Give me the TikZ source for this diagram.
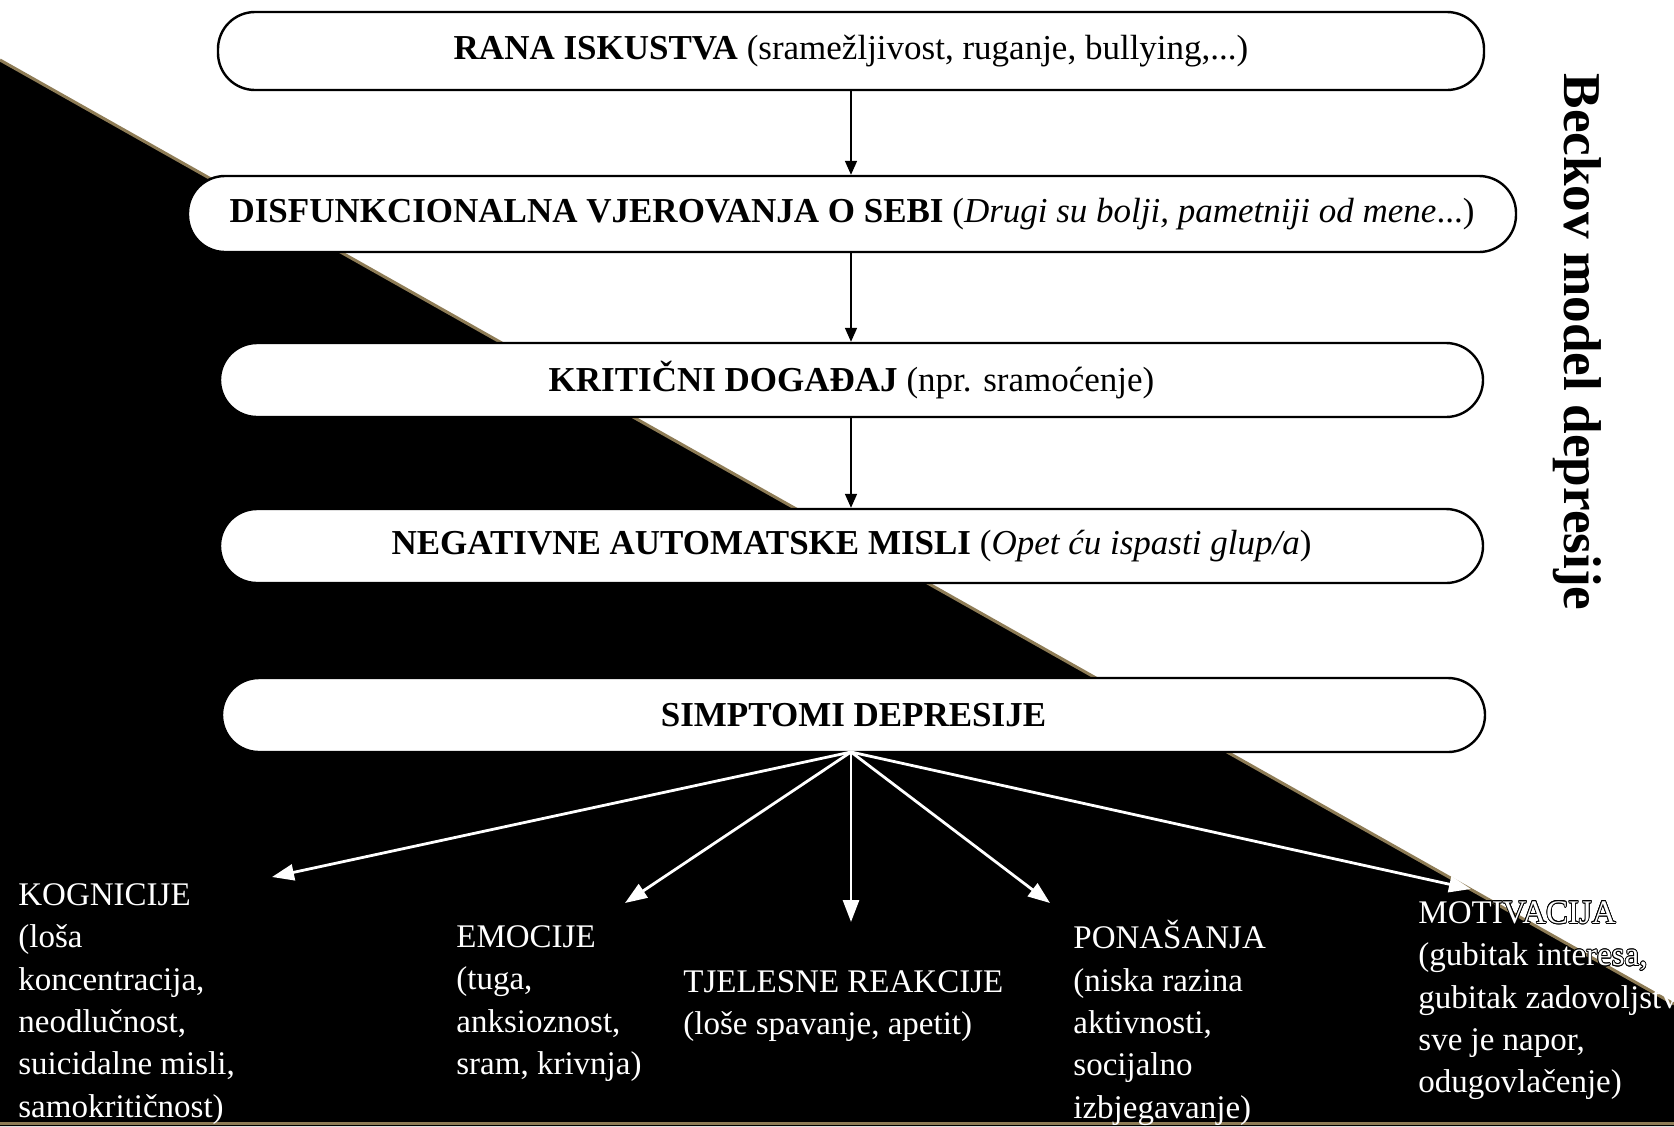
\documentclass[tikz,border=0pt]{standalone}
\usepackage{fontspec}
\setmainfont{Liberation Serif}
\usepackage[copies]{contour}
\contourlength{0.4pt}
\usetikzlibrary{arrows.meta}
\definecolor{gold}{RGB}{142,124,86}
\newcommand{\obrub}[1]{\contour{black}{#1}}

\begin{document}
\begin{tikzpicture}[x=0.5pt,y=-0.5pt,
	stage/.style={draw,fill=white,line width=1.2pt,rounded corners=18.5pt,minimum height=37pt,minimum width=631.5pt,inner sep=0pt,font=\fontsize{17.5}{21}\selectfont},
	flow/.style={-{Triangle[length=7pt,width=6pt]},line width=0.8pt},
	branch/.style={white,-{Triangle[length=11pt,width=8pt]},line width=1.4pt},
	effect/.style={white,anchor=north west,align=left,inner sep=0pt,font=\fontsize{16.5}{21.2}\selectfont}]
		\useasboundingbox (0,0) rectangle (1674,1126);
		\fill[white] (0,0) rectangle (1674,1126);
		\fill[black] (0,60) -- (1674,1004) -- (1674,1126) -- (0,1126) -- cycle;
		\draw[gold,line width=1.5pt] (0,60) -- (1674,1004);
		\draw[gold,line width=1.5pt] (0,1123) -- (1674,1123);
		\node[stage,minimum height=39pt,minimum width=633pt] (rana) at (851,51) {\textbf{RANA ISKUSTVA} (sramežljivost, ruganje, bullying,...)};
		\node[stage,minimum height=38pt,minimum width=664pt] (vjerovanja) at (852,214) {\textbf{DISFUNKCIONALNA VJEROVANJA O SEBI} (\textit{Drugi su bolji, pametniji od mene}...)};
		\node[stage] (dogadaj) at (851.5,380) {\textbf{KRITIČNI DOGAĐAJ} (npr. sramoćenje)};
		\node[stage] (misli) at (851.5,546) {\textbf{NEGATIVNE AUTOMATSKE MISLI} (\textit{Opet ću ispasti glup/a})};
		\node[stage] (simptomi) at (853.5,715) {\textbf{SIMPTOMI DEPRESIJE}};
		\node[rotate=-90,font=\bfseries\fontsize{26.6}{32}\selectfont] (naslov) at (1577,342) {Beckov model depresije};
		\draw[flow] (rana.south -| 851,0) -- (vjerovanja.north -| 851,0);
		\draw[flow] (vjerovanja.south -| 851,0) -- (dogadaj.north -| 851,0);
		\draw[flow] (dogadaj.south -| 851,0) -- (misli.north -| 851,0);
		\node[effect] (kognicije) at (18,883) {KOGNICIJE\\(loša\\koncentracija,\\neodlučnost,\\suicidalne misli,\\samokritičnost)};
		\node[effect] (emocije) at (456,925) {EMOCIJE\\(tuga,\\anksioznost,\\sram, krivnja)};
		\node[effect] (tjelesne) at (683,970) {TJELESNE REAKCIJE\\(loše spavanje, apetit)};
		\node[effect] (ponasanja) at (1073,920) {PONAŠANJA\\(niska razina\\aktivnosti,\\socijalno\\izbjegavanje)};
		\node[effect] (motivacija) at (1418,901) {\obrub{MOTIVACIJA}\\\obrub{(gubitak interesa,}\\gubitak zadovoljstva,\\sve je napor,\\odugovlačenje)};
		\coordinate (izvor) at (851,752);
		\coordinate (kog) at (272,877);
		\coordinate (emo) at (625,903);
		\coordinate (tje) at (851,922);
		\coordinate (pon) at (1050,903);
		\coordinate (mot) at (1471,889);
		\draw[branch] (izvor) -- (kog);
		\draw[branch] (izvor) -- (emo);
		\draw[branch] (izvor) -- (tje);
		\draw[branch] (izvor) -- (pon);
		\draw[branch] (izvor) -- (mot);
\end{tikzpicture}
\end{document}
